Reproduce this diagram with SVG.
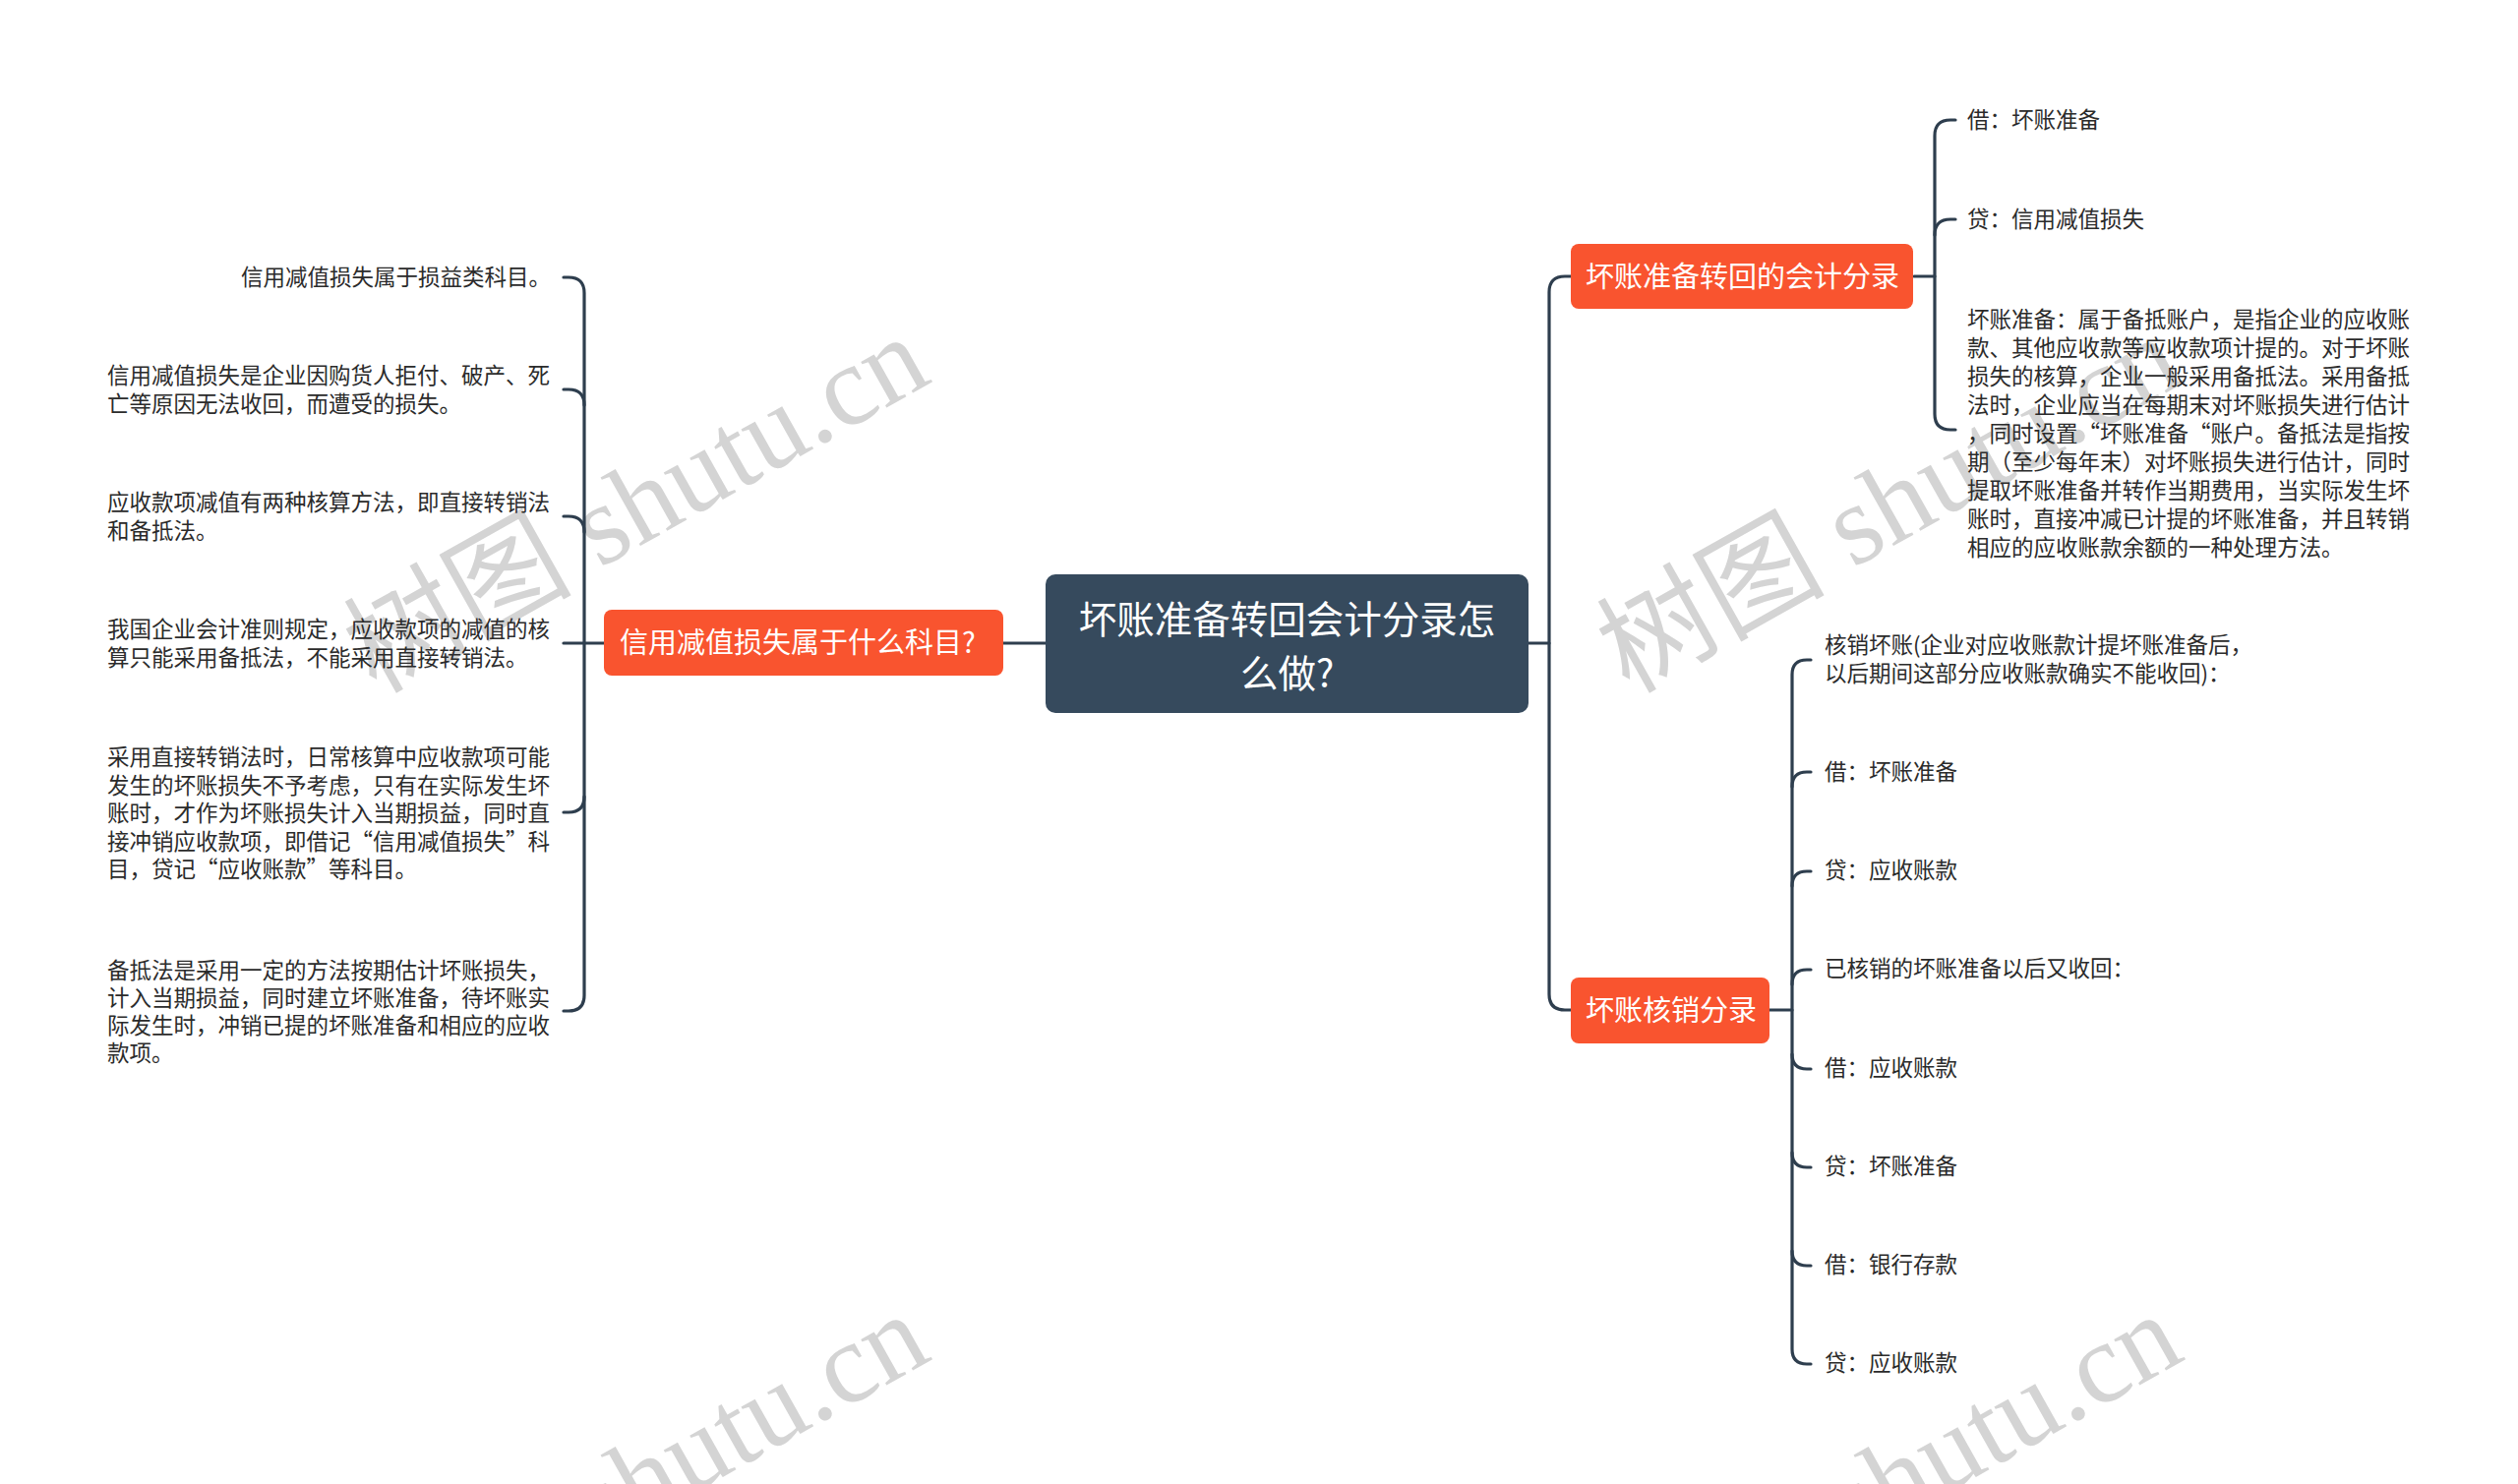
<svg xmlns="http://www.w3.org/2000/svg" width="2560" height="1509" viewBox="0 0 2560 1509">
<style>
.wm{font-family:"Liberation Serif","Noto Sans CJK SC",serif;font-size:116px;fill:#d4d4d4}
.ln{fill:none;stroke:#2e3e4e;stroke-width:3.2;stroke-linecap:round}
.root{fill:#364a5d}
.main{fill:#f9542f}
.tr{font-family:"Noto Sans CJK SC","Noto Sans",sans-serif;font-size:38.5px;fill:#ffffff;dominant-baseline:central}
.tm{font-family:"Noto Sans CJK SC","Noto Sans",sans-serif;font-size:29px;fill:#ffffff;dominant-baseline:central}
.tc{font-family:"Noto Sans CJK SC","Noto Sans",sans-serif;font-size:22.5px;fill:#2b2b2b;dominant-baseline:central}
</style>
<rect width="2560" height="1509" fill="#ffffff"/>
<g id="watermarks">
<text class="wm" transform="translate(382,706) rotate(-29.3)">树图 shutu.cn</text>
<text class="wm" transform="translate(1656,706) rotate(-29.3)">树图 shutu.cn</text>
<text class="wm" transform="translate(382,1700) rotate(-29.3)">树图 shutu.cn</text>
<text class="wm" transform="translate(1656,1700) rotate(-29.3)">树图 shutu.cn</text>
</g>
<g id="connectors">
<path class="ln" d="M1063,654 H1020"/>
<path class="ln" d="M614,654 H573"/>
<path class="ln" d="M573,282 H578 Q594,282 594,298 V1012 Q594,1028 578,1028 H573"/>
<path class="ln" d="M573,396 H578 Q594,396 594,412"/>
<path class="ln" d="M573,525 H578 Q594,525 594,541"/>
<path class="ln" d="M573,826 H578 Q594,826 594,810"/>
<path class="ln" d="M1554,654 H1575"/>
<path class="ln" d="M1597,281 H1591 Q1575,281 1575,297 V1011 Q1575,1027 1591,1027 H1597"/>
<path class="ln" d="M1946,281 H1967"/>
<path class="ln" d="M1988,122 H1983 Q1967,122 1967,138 V421 Q1967,437 1983,437 H1988"/>
<path class="ln" d="M1988,223 H1983 Q1967,223 1967,239"/>
<path class="ln" d="M1799,1027 H1822"/>
<path class="ln" d="M1841,671 H1837 Q1822,671 1822,686 V1372 Q1822,1387 1837,1387 H1841"/>
<path class="ln" d="M1841,785 H1837 Q1822,785 1822,800"/>
<path class="ln" d="M1841,886 H1837 Q1822,886 1822,901"/>
<path class="ln" d="M1841,986 H1837 Q1822,986 1822,1001"/>
<path class="ln" d="M1841,1087 H1837 Q1822,1087 1822,1072"/>
<path class="ln" d="M1841,1187 H1837 Q1822,1187 1822,1172"/>
<path class="ln" d="M1841,1287 H1837 Q1822,1287 1822,1272"/>
</g>
<g id="root">
<rect class="root" x="1063" y="584" width="491" height="141" rx="10"/>
<text class="tr" x="1308.5" y="627" text-anchor="middle">坏账准备转回会计分录怎</text>
<text class="tr" x="1308.5" y="682" text-anchor="middle">么做?</text>
</g>
<g id="node-left">
<rect class="main" x="614" y="620" width="406" height="67" rx="8"/>
<text class="tm" x="630" y="651">信用减值损失属于什么科目?</text>
</g>
<g id="left-1"><text class="tc" x="560" y="280" text-anchor="end">信用减值损失属于损益类科目。</text></g>
<g id="left-2"><text class="tc" x="109" y="380">信用减值损失是企业因购货人拒付、破产、死</text><text class="tc" x="109" y="409">亡等原因无法收回，而遭受的损失。</text></g>
<g id="left-3"><text class="tc" x="109" y="509">应收款项减值有两种核算方法，即直接转销法</text><text class="tc" x="109" y="538">和备抵法。</text></g>
<g id="left-4"><text class="tc" x="109" y="638">我国企业会计准则规定，应收款项的减值的核</text><text class="tc" x="109" y="667">算只能采用备抵法，不能采用直接转销法。</text></g>
<g id="left-5"><text class="tc" x="109" y="768">采用直接转销法时，日常核算中应收款项可能</text><text class="tc" x="109" y="797">发生的坏账损失不予考虑，只有在实际发生坏</text><text class="tc" x="109" y="825">账时，才作为坏账损失计入当期损益，同时直</text><text class="tc" x="109" y="854">接冲销应收款项，即借记“信用减值损失”科</text><text class="tc" x="109" y="882">目，贷记“应收账款”等科目。</text></g>
<g id="left-6"><text class="tc" x="109" y="985">备抵法是采用一定的方法按期估计坏账损失，</text><text class="tc" x="109" y="1013">计入当期损益，同时建立坏账准备，待坏账实</text><text class="tc" x="109" y="1041">际发生时，冲销已提的坏账准备和相应的应收</text><text class="tc" x="109" y="1069">款项。</text></g>
<g id="node-right-1">
<rect class="main" x="1597" y="248" width="348" height="66" rx="8"/>
<text class="tm" x="1612" y="278.5">坏账准备转回的会计分录</text>
</g>
<g id="r1-1"><text class="tc" x="2000" y="120">借：坏账准备</text></g>
<g id="r1-2"><text class="tc" x="2000" y="221">贷：信用减值损失</text></g>
<g id="r1-3">
<text class="tc" x="2000" y="323">坏账准备：属于备抵账户，是指企业的应收账</text>
<text class="tc" x="2000" y="352">款、其他应收款等应收款项计提的。对于坏账</text>
<text class="tc" x="2000" y="381">损失的核算，企业一般采用备抵法。采用备抵</text>
<text class="tc" x="2000" y="410">法时，企业应当在每期末对坏账损失进行估计</text>
<text class="tc" x="2000" y="439">，同时设置“坏账准备“账户。备抵法是指按</text>
<text class="tc" x="2000" y="468">期（至少每年末）对坏账损失进行估计，同时</text>
<text class="tc" x="2000" y="497">提取坏账准备并转作当期费用，当实际发生坏</text>
<text class="tc" x="2000" y="526">账时，直接冲减已计提的坏账准备，并且转销</text>
<text class="tc" x="2000" y="555">相应的应收账款余额的一种处理方法。</text>
</g>
<g id="node-right-2">
<rect class="main" x="1597" y="994" width="202" height="67" rx="8"/>
<text class="tm" x="1612" y="1025">坏账核销分录</text>
</g>
<g id="r2-1"><text class="tc" x="1855" y="654">核销坏账(企业对应收账款计提坏账准备后，</text><text class="tc" x="1855" y="683">以后期间这部分应收账款确实不能收回)：</text></g>
<g id="r2-2"><text class="tc" x="1855" y="783">借：坏账准备</text></g>
<g id="r2-3"><text class="tc" x="1855" y="883">贷：应收账款</text></g>
<g id="r2-4"><text class="tc" x="1855" y="983">已核销的坏账准备以后又收回：</text></g>
<g id="r2-5"><text class="tc" x="1855" y="1084">借：应收账款</text></g>
<g id="r2-6"><text class="tc" x="1855" y="1184">贷：坏账准备</text></g>
<g id="r2-7"><text class="tc" x="1855" y="1284">借：银行存款</text></g>
<g id="r2-8"><text class="tc" x="1855" y="1384">贷：应收账款</text></g>
</svg>
